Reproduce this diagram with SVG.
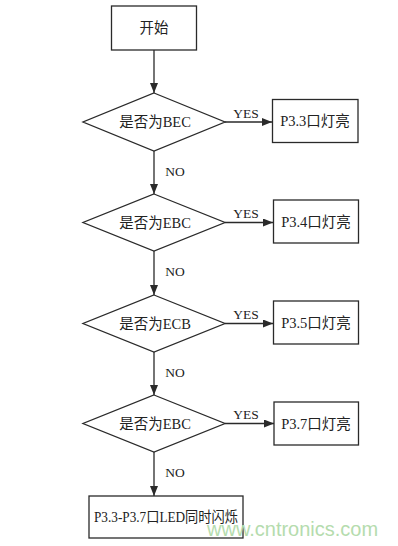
<svg xmlns="http://www.w3.org/2000/svg" width="398" height="546" viewBox="0 0 398 546">
<style>
.shape{fill:#fff;stroke:#2a2a2a;stroke-width:1.3}
.line{fill:none;stroke:#2a2a2a;stroke-width:1.3}
.t{font-family:"Liberation Serif","Noto Sans CJK SC",serif;font-size:14.5px;fill:#222;text-anchor:middle;dominant-baseline:central}
.lbl{font-family:"Liberation Serif",serif;font-size:13.5px;fill:#222;text-anchor:middle}
.wm{font-family:"Liberation Sans",sans-serif;font-size:20px;fill:#b5dcae;text-anchor:start}
</style>
<defs>
<marker id="arr" viewBox="0 0 10 8" refX="10" refY="4" markerWidth="10" markerHeight="8" markerUnits="userSpaceOnUse" orient="auto">
<path d="M0,0 L10,4 L0,8 Z" fill="#2a2a2a"/>
</marker>
</defs>
<rect width="398" height="546" fill="#fff"/>
<g id="connectors">
<line class="line" x1="154" y1="50" x2="154" y2="93" marker-end="url(#arr)"/>
<line class="line" x1="154" y1="151" x2="154" y2="194" marker-end="url(#arr)"/>
<line class="line" x1="154" y1="251" x2="154" y2="295" marker-end="url(#arr)"/>
<line class="line" x1="154" y1="352" x2="154" y2="395" marker-end="url(#arr)"/>
<line class="line" x1="154" y1="452" x2="154" y2="496" marker-end="url(#arr)"/>
<line class="line" x1="225" y1="122" x2="272" y2="122" marker-end="url(#arr)"/>
<line class="line" x1="225" y1="222.5" x2="273" y2="222.5" marker-end="url(#arr)"/>
<line class="line" x1="225" y1="323.5" x2="273" y2="323.5" marker-end="url(#arr)"/>
<line class="line" x1="225" y1="423.5" x2="274" y2="423.5" marker-end="url(#arr)"/>
<text class="lbl" x="246" y="118">YES</text>
<text class="lbl" x="246" y="218">YES</text>
<text class="lbl" x="246" y="319">YES</text>
<text class="lbl" x="246" y="419">YES</text>
<text class="lbl" x="175" y="176">NO</text>
<text class="lbl" x="175" y="276">NO</text>
<text class="lbl" x="175" y="377">NO</text>
<text class="lbl" x="175" y="477">NO</text>
</g>
<g id="start">
<rect class="shape" x="111.5" y="6" width="85" height="44"/>
<text class="t" x="154" y="28" font-size="15">开始</text>
</g>
<g id="d1">
<polygon class="shape" points="154,93 225,122 154,151 83,122"/>
<text class="t" x="155" y="122">是否为BEC</text>
</g>
<g id="d2">
<polygon class="shape" points="154,194 225,222.5 154,251 83,222.5"/>
<text class="t" x="155" y="222.5">是否为EBC</text>
</g>
<g id="d3">
<polygon class="shape" points="154,295 225,323.5 154,352 83,323.5"/>
<text class="t" x="155" y="323.5">是否为ECB</text>
</g>
<g id="d4">
<polygon class="shape" points="154,395 225,423.5 154,452 83,423.5"/>
<text class="t" x="155" y="423.5">是否为EBC</text>
</g>
<g id="b1">
<rect class="shape" x="272.5" y="99.5" width="85.5" height="43"/>
<text class="t" x="315" y="121">P3.3口灯亮</text>
</g>
<g id="b2">
<rect class="shape" x="273.5" y="200" width="85" height="43"/>
<text class="t" x="316" y="221.5">P3.4口灯亮</text>
</g>
<g id="b3">
<rect class="shape" x="273.5" y="301" width="85" height="43"/>
<text class="t" x="316" y="322.5">P3.5口灯亮</text>
</g>
<g id="b4">
<rect class="shape" x="274" y="402" width="84.5" height="43"/>
<text class="t" x="316" y="423.5">P3.7口灯亮</text>
</g>
<g id="end">
<rect class="shape" x="89" y="496" width="154" height="42"/>
<text class="t" x="166" y="517" textLength="144" lengthAdjust="spacingAndGlyphs">P3.3-P3.7口LED同时闪烁</text>
</g>
<text class="wm" x="207" y="536">www.cntronics.com</text>
</svg>
